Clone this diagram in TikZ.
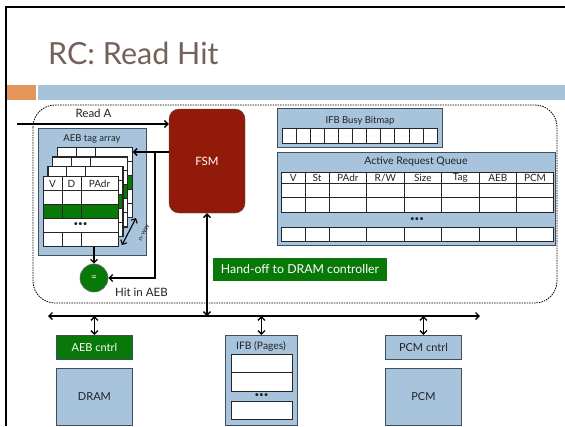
\documentclass[tikz,border=0pt]{standalone}
\usepackage{fontspec}
\setmainfont{Lato}
\usetikzlibrary{arrows.meta,calc}
\definecolor{boxblue}{HTML}{A7C4DC}
\definecolor{boxedge}{HTML}{3F4F5E}
\definecolor{fsmred}{HTML}{921A08}
\definecolor{hgreen}{HTML}{087808}
\definecolor{titlec}{HTML}{76615A}
\definecolor{barorange}{HTML}{E4955A}
\definecolor{barblue}{HTML}{A5C2D9}
\definecolor{txt}{HTML}{222222}
\tikzset{
  bluebox/.style={draw=boxedge, fill=boxblue, line width=0.9pt, inner sep=0pt, anchor=north west},
  greenbox/.style={draw=boxedge, fill=hgreen, line width=0.9pt, inner sep=0pt, text=white},
  cellline/.style={draw=black!85, line width=0.6pt},
  lbl/.style={text=txt, inner sep=0pt},
  boxtitle/.style={font=\fontsize{9.5}{11}\selectfont},
  cellfont/.style={font=\fontsize{10}{11}\selectfont},
  mid/.style={font=\fontsize{11.5}{13}\selectfont},
  arr/.style={-{Straight Barb[length=3.5pt,width=7pt]}, line width=1.3pt},
  dbl/.style={{Straight Barb[length=3.5pt,width=7pt]}-{Straight Barb[length=3.5pt,width=7pt]}, line width=1.3pt},
}
\begin{document}
\begin{tikzpicture}[x=1pt,y=-1pt, font=\fontsize{10}{11}\selectfont]
\useasboundingbox (0,0) rectangle (565,426);
\fill[white] (0,0) rectangle (565,426);
% slide frame
\draw[line width=2.5pt] (6.2,426) -- (6.2,7) -- (565,7);
% title
\node[anchor=base west, text=titlec, font=\fontsize{30.5}{32}\selectfont, inner sep=0pt] (title) at (48,64) {RC: Read Hit};
\fill[barorange] (7,85) rectangle (36,100);
\fill[barblue] (38,85) rectangle (565,100);
% container
\draw[line width=0.8pt, dash pattern=on 1.5pt off 1pt, rounded corners=22pt] (33,105) rectangle (557,303);

% FSM
\node[draw=black!70, fill=fsmred, rounded corners=10pt, minimum width=76pt, minimum height=104pt, inner sep=0pt, text=white, font=\fontsize{11.5}{13}\selectfont] (fsm) at (207,161) {FSM};

% AEB tag array
\node[bluebox, minimum width=108pt, minimum height=127pt] (tagarr) at (38,128) {};
\node[lbl, boxtitle] (tagtitle) at (92,139) {AEB tag array};
\foreach \i in {3,2,1,0}{
  \pgfmathsetmacro\ox{43+4.7*\i}
  \pgfmathsetmacro\oy{176-9.7*\i}
  \node[fill=white, draw=black!85, line width=0.6pt, minimum width=75pt, minimum height=70pt, inner sep=0pt, anchor=north west] (L\i) at (\ox,\oy) {};
  \fill[hgreen] (\ox,\oy+28) rectangle (\ox+75,\oy+42);
  \draw[cellline] (\ox,\oy+14) -- (\ox+75,\oy+14)
                  (\ox,\oy+28) -- (\ox+75,\oy+28)
                  (\ox,\oy+42) -- (\ox+75,\oy+42)
                  (\ox,\oy+56) -- (\ox+75,\oy+56)
                  (\ox+19,\oy) -- (\ox+19,\oy+42)
                  (\ox+38,\oy) -- (\ox+38,\oy+42)
                  (\ox+19,\oy+56) -- (\ox+19,\oy+70)
                  (\ox+38,\oy+56) -- (\ox+38,\oy+70);
  \draw[cellline] (\ox,\oy) rectangle (\ox+75,\oy+70);
}
\node[lbl, cellfont] (hv) at (52.5,183.5) {V};
\node[lbl, cellfont] (hd) at (71.5,183.5) {D};
\node[lbl, cellfont] (hp) at (99.5,183.5) {PAdr};
\node[lbl, font=\fontsize{8}{9}\selectfont] (tdots) at (80.5,225) {•••};
% n-way
\coordinate (nwa) at (122,245);
\coordinate (nwb) at (136,218);
\draw[dbl, line width=1.1pt] (nwa) -- (nwb);
\node[lbl, font=\fontsize{6.5}{7}\selectfont, rotate=63] (nway) at (144.5,233) {n-way};

% compare circle
\node[circle, fill=hgreen, draw=black!60, line width=0.6pt, minimum size=28pt, inner sep=0pt, text=white] (eq) at (94,278) {=};
\node[lbl, mid, anchor=west] (hit) at (115,292.5) {Hit in AEB};
\draw[arr] (eq.north |- L0.south) -- (eq.north);

% read A
\coordinate (readin) at (17,124);
\draw[arr] (readin) -- (readin -| fsm.west);
\node[lbl, mid] (readA) at (93.5,113) {Read A};

% FSM to tag array
\coordinate (tapy) at (0,152);
\coordinate (tap) at (155,152);
\draw[arr] (fsm.west |- tapy) -- (L3.east |- tapy);
\draw[arr] (tap) |- (eq.east);

% IFB busy bitmap
\node[bluebox, minimum width=165pt, minimum height=39pt] (bitmap) at (277,108) {};
\node[lbl, boxtitle] (bmtitle) at (360,121) {IFB Busy Bitmap};
\foreach \k in {0,...,10}{
  \draw[cellline, fill=white] (282+\k*14.09,128) rectangle ++(14.09,15);
}

% Active request queue
\node[bluebox, minimum width=278pt, minimum height=93pt] (arq) at (277,152) {};
\node[lbl, font=\fontsize{10.5}{12}\selectfont] (arqtitle) at (416,162) {Active Request Queue};
\draw[cellline, fill=white] (281.7,172) rectangle (553.3,212);
\draw[cellline, fill=white] (281.7,227) rectangle (553.3,241);
\draw[cellline] (281.7,183) -- (553.3,183) (281.7,197) -- (553.3,197);
\foreach \c in {305,329,366.7,404,441.7,479,516.7}{
  \draw[cellline] (\c,172) -- (\c,212) (\c,227) -- (\c,241);
}
\foreach \t/\cx in {V/293.3, St/317, PAdr/347.8, R\slash W/385.3, Size/422.8, Tag/460.3, AEB/497.8, PCM/535}{
  \node[lbl, cellfont] at (\cx,177.8) {\t};
}
\node[lbl, font=\fontsize{8}{9}\selectfont] (qdots) at (417,219.5) {•••};

% hand-off
\node[fill=hgreen, minimum width=174pt, minimum height=23pt, inner sep=0pt, text=white, font=\fontsize{12.3}{14}\selectfont] (handoff) at (300,269.5) {Hand-off to DRAM controller};

% bus
\coordinate (busL) at (48,316);
\coordinate (busR) at (480,316);
\draw[dbl] (busL) -- (busR);
\draw[dbl] (fsm.south) -- (fsm.south |- busL);

% bottom components
\node[greenbox, minimum width=76pt, minimum height=24pt, anchor=north west, font=\fontsize{11}{12}\selectfont] (aeb) at (56,335) {AEB cntrl};
\node[bluebox, minimum width=76pt, minimum height=57pt] (dram) at (56,368) {};
\node[lbl, font=\fontsize{11}{12}\selectfont] (dramt) at (dram.center) {DRAM};
\node[bluebox, minimum width=72pt, minimum height=90pt] (ifb) at (225,335) {};
\node[lbl, font=\fontsize{10.3}{11}\selectfont] (ifbt) at (261,346) {IFB (Pages)};
\draw[cellline, fill=white] (231,354) rectangle (292,372);
\draw[cellline, fill=white] (231,372) rectangle (292,391);
\draw[cellline, fill=white] (231,401) rectangle (292,419);
\node[lbl, font=\fontsize{8}{9}\selectfont] (idots) at (261.5,396) {•••};
\node[bluebox, minimum width=76pt, minimum height=24pt, font=\fontsize{11}{12}\selectfont, text=txt] (pcmc) at (385,335) {PCM cntrl};
\node[bluebox, minimum width=76pt, minimum height=57pt] (pcm) at (385,368) {};
\node[lbl, font=\fontsize{11}{12}\selectfont] (pcmt) at (pcm.center) {PCM};

\draw[dbl] (aeb.north |- busL) -- (aeb.north);
\draw[dbl] (ifb.north |- busL) -- (ifb.north);
\draw[dbl] (pcmc.north |- busL) -- (pcmc.north);
\end{tikzpicture}
\end{document}
